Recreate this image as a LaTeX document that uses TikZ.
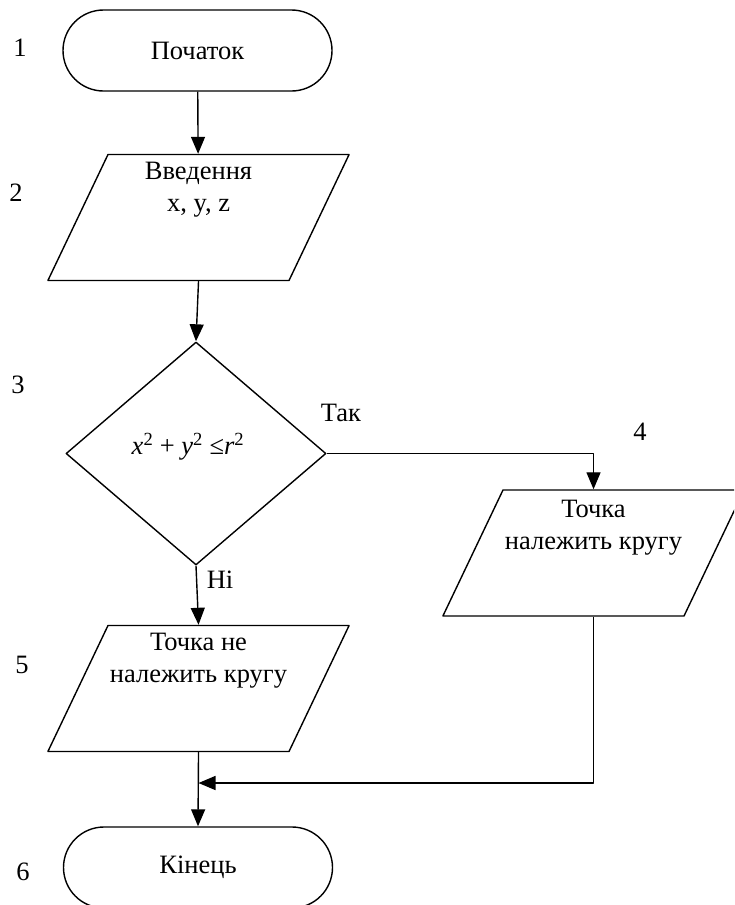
\documentclass[tikz,border=0pt]{standalone}
\usepackage{fontspec}
\setmainfont{Liberation Serif}
\usetikzlibrary{shapes.geometric,shapes.misc,arrows.meta,positioning}

\tikzset{
  term/.style={draw,rounded rectangle,minimum width=269pt,minimum height=81pt,inner sep=0pt},
  io/.style={draw,trapezium,trapezium left angle=64.5,trapezium right angle=115.5,
    text width=181pt,text height=63pt,text depth=63pt,inner sep=0pt},
  cond/.style={draw,diamond,minimum width=260pt,minimum height=223pt,inner sep=0pt},
  txt/.style={align=center,inner sep=0pt},
  arr/.style={-{Triangle[length=17pt,width=14pt]}},
}

\begin{document}
\begin{tikzpicture}[x=1pt,y=-1pt,line width=1.4pt,line join=round,
    font=\fontsize{26.5}{32}\selectfont]
  \useasboundingbox (0,0) rectangle (734,905);
  \clip (0,0) rectangle (734,905);
  % blocks
  \node[term] (start) at (197.5,50.5) {Початок};
  \node[io] (in) at (198.5,217.5) {};
  \node[txt,below=8pt of in.north] (intxt) {Введення\\x, y, z};
  \node[cond] (test) at (196,453.5) {};
  \node[txt] (testtxt) at (188,447) {{\itshape x}\textsuperscript{2} + {\itshape y}\textsuperscript{2} ≤{\itshape r}\textsuperscript{2}};
  \node[io] (yes) at (593.5,553) {};
  \node[txt,below=10pt of yes.north] (yestxt) {Точка\\належить кругу};
  \node[io] (no) at (198.5,688.5) {};
  \node[txt,below=8pt of no.north] (notxt) {Точка не\\належить кругу};
  \node[term] (stop) at (198,867.5) {Кінець};
  \coordinate (j) at (198.5,783);
  % connectors
  \draw[arr] (start) -- (in);
  \draw[arr] (in.south) -- (test.north);
  \draw[arr] (test.east) -| (yes.north);
  \draw[arr] (test.south) -- (no.north);
  \draw[arr] (yes.south) |- (j);
  \draw[arr] (no.south) -- (stop.north);
  \node (tak) at (341,413) {Так};
  \node (ni) at (220,580) {Ні};
  % numbers
  \foreach \Num/\X/\Y in {1/20/48,2/16/193,3/18/385,4/640/432,5/22/665,6/23/872}
    \node (n\Num) at (\X,\Y) {\Num};
\end{tikzpicture}
\end{document}
